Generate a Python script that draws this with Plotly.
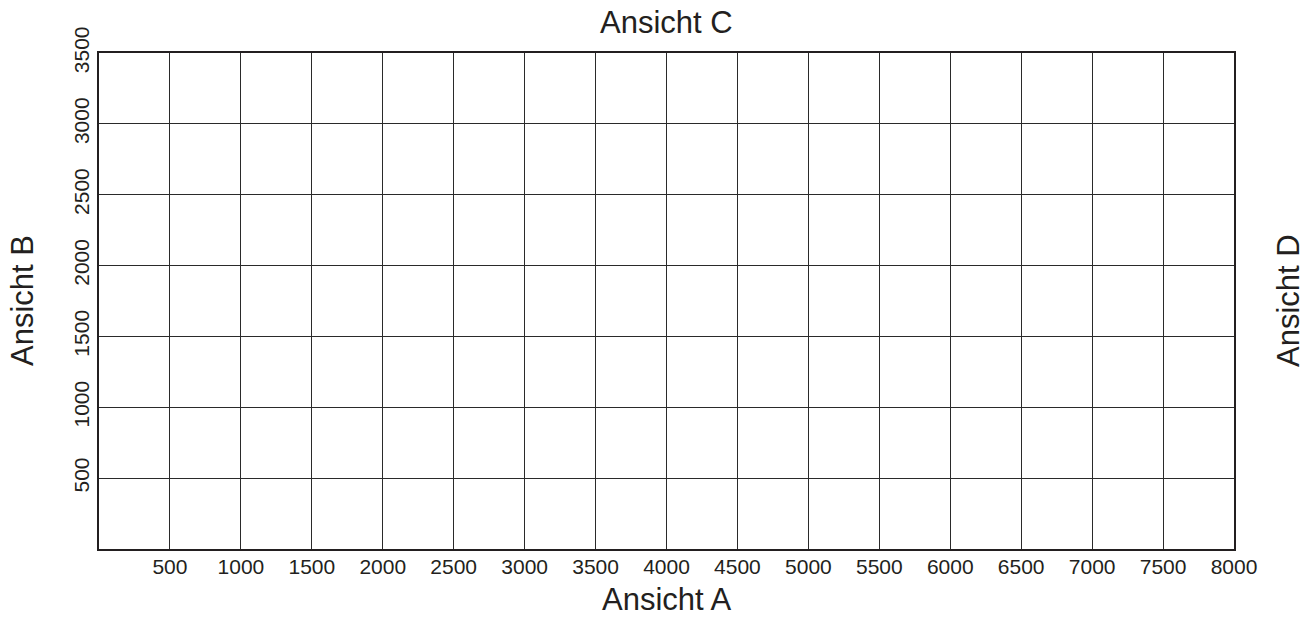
import plotly.graph_objects as go

# Data
x_ticks = [500, 1000, 1500, 2000, 2500, 3000, 3500, 4000, 4500, 5000, 5500, 6000, 6500, 7000, 7500, 8000]
y_ticks = [500, 1000, 1500, 2000, 2500, 3000, 3500]
x_range = [0, 8000]
y_range = [0, 3500]
view_labels = {"bottom": "Ansicht A", "left": "Ansicht B", "top": "Ansicht C", "right": "Ansicht D"}

FONT = "Liberation Sans, Arial, Helvetica, sans-serif"
TXT = "#231f20"

fig = go.Figure()
fig.add_trace(go.Scatter(x=[], y=[], mode="markers", showlegend=False, hoverinfo="skip"))

fig.update_layout(
    width=1310, height=617,
    margin=dict(l=99, r=76, t=53, b=68),
    paper_bgcolor="white", plot_bgcolor="white",
    font=dict(family=FONT, color=TXT),
    showlegend=False,
)

fig.update_xaxes(
    range=x_range, tickvals=x_ticks, ticktext=[str(v) for v in x_ticks],
    showgrid=True, gridcolor="#2a2a2a", gridwidth=1,
    showline=True, linecolor="#231f20", linewidth=2, mirror=True,
    zeroline=False, ticks="", tickfont=dict(size=21, family=FONT, color=TXT),
    ticklabelstandoff=-2,
)
fig.update_yaxes(
    range=y_range, tickvals=y_ticks, ticktext=[str(v) for v in y_ticks],
    showgrid=True, gridcolor="#2a2a2a", gridwidth=1,
    showline=True, linecolor="#231f20", linewidth=2, mirror=True,
    zeroline=False, ticks="", tickangle=-90, tickfont=dict(size=21, family=FONT, color=TXT),
    ticklabelstandoff=0,
)

ann_font = dict(size=31, family=FONT, color=TXT)
fig.add_annotation(text=view_labels["top"], xref="paper", yref="paper", x=0.5, y=1,
                   yshift=31, showarrow=False, font=ann_font, xanchor="center", yanchor="middle",
                   borderpad=0)
fig.add_annotation(text=view_labels["bottom"], xref="paper", yref="paper", x=0.5, y=0,
                   yshift=-50, showarrow=False, font=ann_font, xanchor="center", yanchor="middle",
                   borderpad=0)
fig.add_annotation(text=view_labels["left"], xref="paper", yref="paper", x=0, y=0.5,
                   xshift=-77, showarrow=False, font=ann_font, textangle=-90,
                   xanchor="center", yanchor="middle", borderpad=0)
fig.add_annotation(text=view_labels["right"], xref="paper", yref="paper", x=1, y=0.5,
                   xshift=54, showarrow=False, font=ann_font, textangle=-90,
                   xanchor="center", yanchor="middle", borderpad=0)

fig.write_html("out.html", config={"displayModeBar": False},
               post_script="document.body.style.margin='0';document.body.style.padding='0';")
